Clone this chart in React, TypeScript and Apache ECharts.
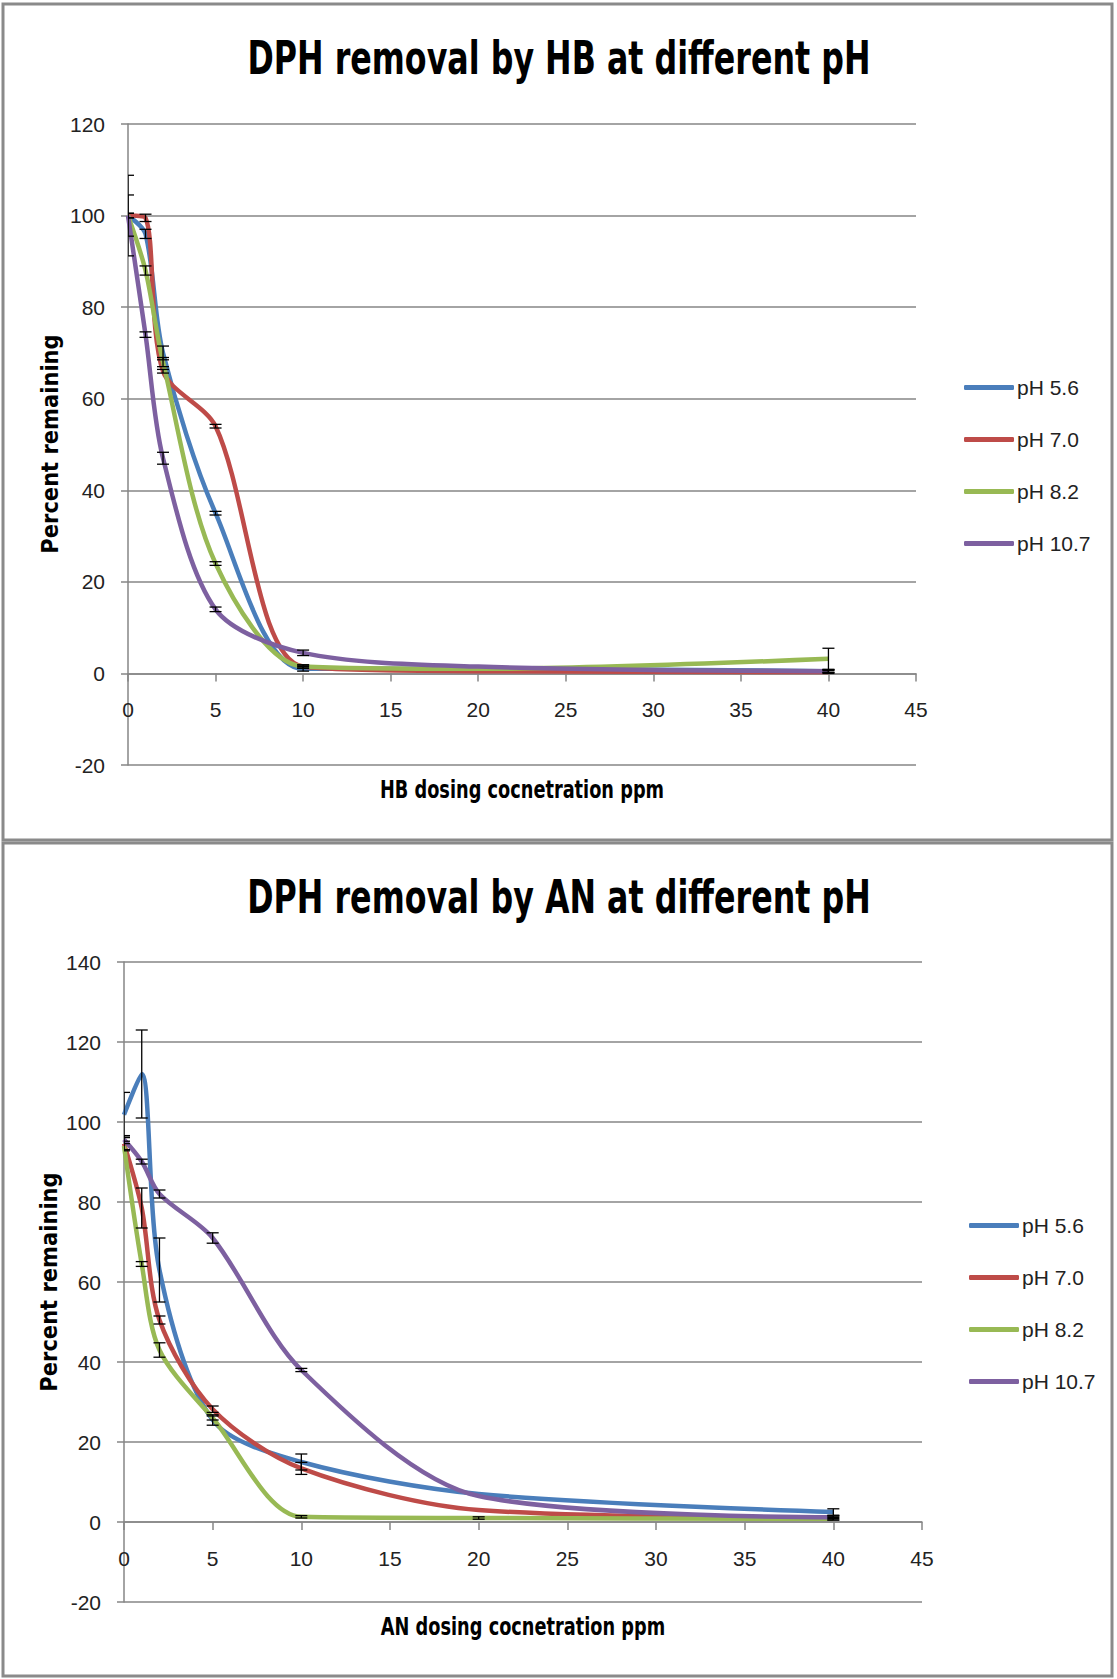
import React, { useEffect, useRef } from "react";
import * as echarts from "echarts";

const FONT = "'Liberation Sans', Arial, sans-serif";
const TITLE_FONT = "'DejaVu Sans', sans-serif";

const SERIES_NAMES = ["pH 5.6", "pH 7.0", "pH 8.2", "pH 10.7"];
const COLORS = ["#4A7EBB", "#BE4B48", "#98B954", "#7D60A0"];

// x ticks / y ticks
const X_MIN = 0;
const X_MAX = 45;
const X_STEP = 5;
const HB_Y = [-20, 120, 20];
const AN_Y = [-20, 140, 20];

// Chart 1: HB dosing
const HB_X = [0, 1, 2, 5, 10, 20, 40];
const HB_PH56 = [100, 96, 70, 35, 1, 1, 0.5];
const HB_PH70 = [100, 99.5, 66, 54, 1.5, 0.5, 0.3];
const HB_PH82 = [100, 88, 68, 24, 1.5, 1, 3.2];
const HB_PH107 = [100, 74, 47, 14, 4.5, 1.5, 0.5];
const HB_ERR56 = [8.8, 1, 1.5, 0.4, 0.5, null, 0.3];
const HB_ERR70 = [0.5, 0.8, 0.4, 0.4, 0.3, null, 0.3];
const HB_ERR82 = [4.5, 1, 1, 0.4, 0.4, null, 2.3];
const HB_ERR107 = [0.5, 0.6, 1.3, 0.5, 0.6, null, 0.3];

// Chart 2: AN dosing
const AN_X = [0, 1, 2, 5, 10, 20, 40];
const AN_PH56 = [101.8, 112, 63, 25.5, 15, 7, 2.5];
const AN_PH70 = [94.6, 78.5, 50.5, 28.2, 13.4, 3, 1];
const AN_PH82 = [94, 64.5, 43, 26, 1.3, 1, 0.8];
const AN_PH107 = [95.6, 90.1, 82, 71, 38, 6.5, 1.2];
const AN_ERR56 = [5.6, 11, 8, 1.3, 2, null, 0.8];
const AN_ERR70 = [1.5, 5, 1, 0.8, 1.5, null, 0.5];
const AN_ERR82 = [1.2, 0.6, 1.8, 0.5, 0.3, 0.3, 0.3];
const AN_ERR107 = [1, 0.6, 1, 1.3, 0.4, null, 0.3];

const HB_VALUES = [HB_PH56, HB_PH70, HB_PH82, HB_PH107];
const HB_ERRS = [HB_ERR56, HB_ERR70, HB_ERR82, HB_ERR107];
const AN_VALUES = [AN_PH56, AN_PH70, AN_PH82, AN_PH107];
const AN_ERRS = [AN_ERR56, AN_ERR70, AN_ERR82, AN_ERR107];

const errRender = (params: any, api: any) => {
  const x = api.value(0);
  const y = api.value(1);
  const e = api.value(2);
  const top = api.coord([x, y + e]);
  const bot = api.coord([x, y - e]);
  const w = 6;
  const style = { stroke: "#000", lineWidth: 1.3 };
  return {
    type: "group",
    children: [
      { type: "line", shape: { x1: top[0], y1: top[1], x2: bot[0], y2: bot[1] }, style },
      { type: "line", shape: { x1: top[0] - w, y1: top[1], x2: top[0] + w, y2: top[1] }, style },
      { type: "line", shape: { x1: bot[0] - w, y1: bot[1], x2: bot[0] + w, y2: bot[1] }, style },
    ],
  };
};

function buildSeries(idx: number, xs: number[], vals: number[][], errs: (number | null)[][]) {
  const out: any[] = [];
  vals.forEach((ys, s) => {
    out.push({
      type: "line",
      name: SERIES_NAMES[s],
      xAxisIndex: idx,
      yAxisIndex: idx,
      data: xs.map((x, i) => [x, ys[i]]),
      smooth: 0.3,
      symbol: "none",
      showSymbol: false,
      lineStyle: { width: 4.5, color: COLORS[s] },
      itemStyle: { color: COLORS[s] },
      z: 2,
    });
  });
  vals.forEach((ys, s) => {
    const data: number[][] = [];
    xs.forEach((x, i) => {
      const e = errs[s][i];
      if (e !== null && e !== undefined) data.push([x, ys[i], e]);
    });
    out.push({
      type: "custom",
      name: "err-" + idx + "-" + s,
      xAxisIndex: idx,
      yAxisIndex: idx,
      renderItem: errRender,
      encode: { x: 0, y: 1 },
      data,
      clip: true,
      z: 3,
      silent: true,
    });
  });
  return out;
}

const axisColor = "#868686";

function xAxisCfg(idx: number, offset: number) {
  return {
    type: "value",
    gridIndex: idx,
    min: X_MIN,
    max: X_MAX,
    interval: X_STEP,
    offset,
    axisLine: { show: true, onZero: false, lineStyle: { color: axisColor, width: 1.5 } },
    axisTick: { show: true, length: 8, lineStyle: { color: axisColor, width: 1.5 } },
    axisLabel: { margin: 26, fontSize: 21, color: "#222", fontFamily: FONT },
    splitLine: { show: false },
  };
}

function yAxisCfg(idx: number, cfg: number[]) {
  return {
    type: "value",
    gridIndex: idx,
    min: cfg[0],
    max: cfg[1],
    interval: cfg[2],
    axisLine: { show: true, onZero: false, lineStyle: { color: axisColor, width: 1.5 } },
    axisTick: { show: true, length: 7, lineStyle: { color: axisColor, width: 1.5 } },
    axisLabel: { margin: 23, fontSize: 21, color: "#222", fontFamily: FONT },
    splitLine: { show: true, lineStyle: { color: axisColor, width: 1.5 } },
  };
}

function legendCfg(left: number, top: number) {
  return {
    orient: "vertical",
    left,
    top,
    icon: "roundRect",
    itemWidth: 50,
    itemHeight: 5,
    itemGap: 31,
    textStyle: { fontSize: 21, color: "#222", fontFamily: FONT, padding: [0, 0, 0, -2] },
    data: SERIES_NAMES,
  };
}

function textEl(text: string, x: number, y: number, size: number, extra: any = {}) {
  return {
    type: "text",
    x,
    y,
    ...extra,
    style: {
      text,
      fontSize: size,
      fontWeight: "bold",
      fontFamily: TITLE_FONT,
      fill: "#000",
      align: "center",
      verticalAlign: "middle",
    },
    z: 10,
  };
}

// grid geometry
const G1 = { left: 128, top: 124, width: 788, height: 641 };
const G2 = { left: 124, top: 962, width: 798, height: 640 };

export default function App() {
  const ref = useRef<HTMLDivElement>(null);
  useEffect(() => {
    if (!ref.current) return;
    const chart = echarts.init(ref.current, undefined, { renderer: "svg" });
    // shift x axes up onto the y = 0 line
    const off1 = -(G1.height * (0 - HB_Y[0])) / (HB_Y[1] - HB_Y[0]);
    const off2 = -(G2.height * (0 - AN_Y[0])) / (AN_Y[1] - AN_Y[0]);
    chart.setOption({
      animation: false,
      backgroundColor: "#fff",
      textStyle: { fontFamily: FONT },
      grid: [G1, G2],
      xAxis: [xAxisCfg(0, off1), xAxisCfg(1, off2)],
      yAxis: [yAxisCfg(0, HB_Y), yAxisCfg(1, AN_Y)],
      legend: [legendCfg(959, 372), legendCfg(964, 1210)],
      series: [
        ...buildSeries(0, HB_X, HB_VALUES, HB_ERRS),
        ...buildSeries(1, AN_X, AN_VALUES, AN_ERRS),
      ],
      graphic: [
        {
          type: "rect",
          shape: { x: 3, y: 4, width: 1109, height: 836 },
          style: { fill: "none", stroke: "#8a8a8a", lineWidth: 3 },
          z: 0,
        },
        {
          type: "rect",
          shape: { x: 3, y: 843, width: 1109, height: 833 },
          style: { fill: "none", stroke: "#8a8a8a", lineWidth: 3 },
          z: 0,
        },
        textEl("DPH removal by HB at different pH", 559, 58, 46, { scaleX: 0.69 }),
        textEl("DPH removal by AN at different pH", 559, 897, 46, { scaleX: 0.69 }),
        textEl("HB dosing cocnetration ppm", 522, 789, 25, { scaleX: 0.71 }),
        textEl("AN dosing cocnetration ppm", 523, 1626, 25, { scaleX: 0.71 }),
        textEl("Percent remaining", 50, 444, 23, { rotation: Math.PI / 2, scaleX: 0.915 }),
        textEl("Percent remaining", 49, 1282, 23, { rotation: Math.PI / 2, scaleX: 0.915 }),
      ],
    });
    return () => chart.dispose();
  }, []);
  return (
    <div
      ref={ref}
      style={{ position: "absolute", left: 0, top: 0, width: 1117, height: 1679, background: "#fff" }}
    />
  );
}
